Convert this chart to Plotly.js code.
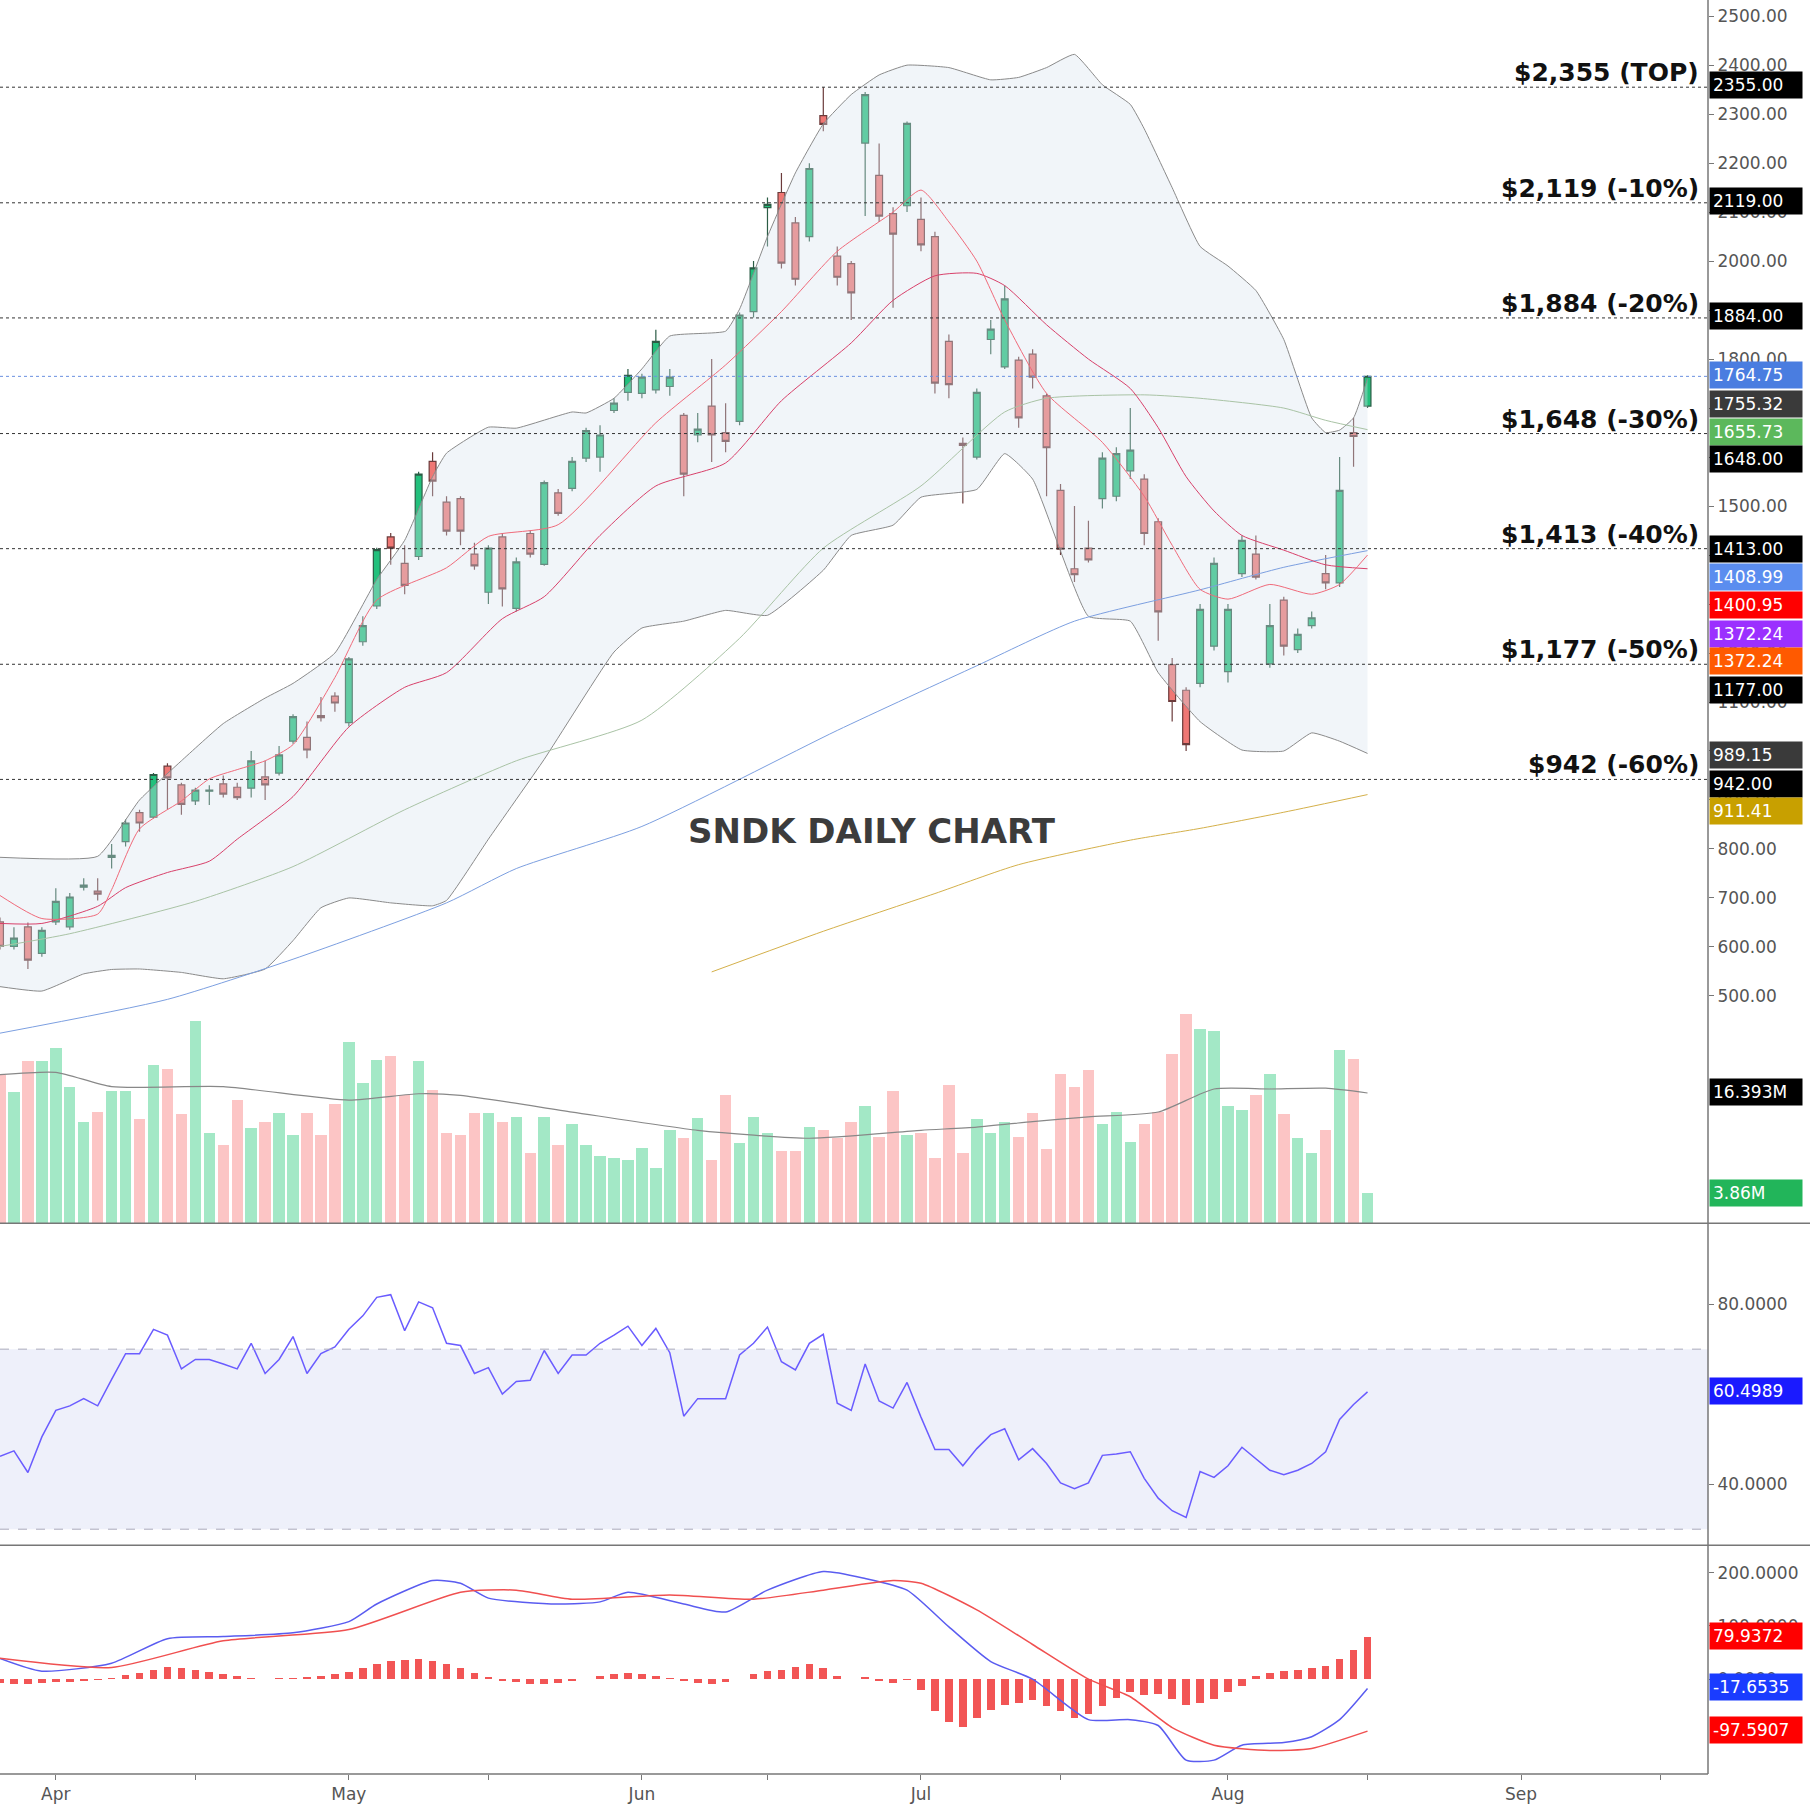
<!DOCTYPE html>
<html>
<head>
<meta charset="utf-8">
<script src="https://cdn.plot.ly/plotly-3.0.1.min.js"></script>
<style>html,body{margin:0;padding:0;background:#fff}#chart{width:1810px;height:1807px}</style>
</head>
<body>
<div id="chart"></div>
<script>
// trading days Mar 26 .. Aug 15
let dates = ["03-26","03-27","03-28","03-31",
  "04-01","04-02","04-03","04-04","04-07","04-08","04-09","04-10","04-11","04-14","04-15","04-16","04-17","04-21","04-22","04-23","04-24","04-25","04-28","04-29","04-30",
  "05-01","05-02","05-05","05-06","05-07","05-08","05-09","05-12","05-13","05-14","05-15","05-16","05-19","05-20","05-21","05-22","05-23","05-27","05-28","05-29","05-30",
  "06-02","06-03","06-04","06-05","06-06","06-09","06-10","06-11","06-12","06-13","06-16","06-17","06-18","06-20","06-23","06-24","06-25","06-26","06-27","06-30",
  "07-01","07-02","07-03","07-07","07-08","07-09","07-10","07-11","07-14","07-15","07-16","07-17","07-18","07-21","07-22","07-23","07-24","07-25","07-28","07-29","07-30","07-31",
  "08-01","08-04","08-05","08-06","08-07","08-08","08-11","08-12","08-13","08-14","08-15"];
let idx = dates.map((d, i) => i);

let open  = [651,601,641,587,651,641,722,714,783,815,874,865,969,931,898,918,933,926,924,947,955,1020,1028,1072,1112,
  1058,1223,1296,1437,1383,1397,1591,1508,1515,1402,1324,1437,1291,1444,1381,1527,1536,1598,1600,1695,1732,
  1730,1737,1744,1685,1645,1704,1650,1673,1897,2109,2140,2078,2050,2297,2010,1995,2241,2175,2097,2113,
  2085,2050,1836,1628,1600,1840,1784,1798,1810,1725,1532,1372,1414,1515,1520,1572,1555,1468,1176,1124,1138,1214,
  1162,1362,1402,1178,1308,1207,1256,1362,1343,1650,1704];
let close = [601,618,573,634,693,702,726,708,787,853,853,952,945,891,920,920,912,905,980,931,992,1070,1002,1068,1098,
  1188,1256,1411,1414,1338,1565,1551,1449,1449,1378,1414,1331,1386,1402,1548,1485,1591,1654,1645,1710,1767,
  1763,1836,1763,1565,1657,1645,1632,1890,1986,2116,1996,1963,2189,2279,1967,1935,2340,2092,2055,2281,
  2033,1751,1748,1624,1732,1861,1923,1680,1763,1619,1412,1360,1390,1598,1607,1614,1444,1284,1101,1013,1289,1383,
  1289,1430,1355,1256,1214,1238,1272,1343,1532,1642,1765];
let high  = [660,640,650,640,720,710,740,740,810,860,880,955,975,935,925,930,950,935,1000,980,1010,1075,1060,1110,1120,
  1192,1275,1415,1445,1420,1570,1610,1520,1520,1425,1420,1445,1395,1450,1552,1535,1600,1660,1665,1720,1780,
  1770,1860,1780,1690,1690,1800,1710,1895,2000,2130,2180,2090,2200,2355,2030,2000,2345,2240,2110,2285,
  2130,2060,1850,1640,1740,1880,1950,1805,1820,1730,1545,1500,1470,1610,1620,1700,1565,1475,1190,1130,1300,1395,
  1300,1440,1440,1300,1315,1250,1285,1400,1600,1680,1767];
let low   = [595,595,555,580,645,635,715,695,760,805,835,862,880,870,890,890,905,900,905,900,950,1015,985,1060,1080,
  1050,1215,1290,1380,1320,1390,1520,1440,1420,1370,1300,1295,1285,1395,1378,1480,1530,1590,1570,1690,1715,
  1720,1730,1725,1520,1630,1590,1610,1665,1885,2030,1985,1950,2040,2265,1950,1880,2092,2080,1905,2100,
  2020,1730,1720,1505,1595,1810,1780,1660,1740,1520,1400,1345,1385,1495,1510,1555,1420,1225,1060,1000,1130,1205,
  1140,1355,1350,1170,1195,1200,1250,1330,1335,1580,1700];
let volume = [18.7,16.5,20.4,20.4,22.0,17.2,12.8,14.0,16.6,16.6,13.1,19.9,19.4,13.7,25.4,11.4,9.9,15.5,12.0,12.8,
  13.9,11.1,13.9,11.1,15.0,22.8,17.7,20.6,21.0,16.1,20.4,16.8,11.4,11.1,13.9,13.9,12.8,13.4,8.8,13.4,
  9.9,12.5,9.9,8.5,8.2,7.9,9.5,7.0,11.8,10.7,13.2,8.0,16.1,10.1,13.4,11.4,9.1,9.1,12.1,11.8,
  10.7,12.8,14.7,10.9,16.6,11.1,11.4,8.2,17.4,8.8,13.1,11.4,12.8,10.8,13.9,9.3,18.8,17.2,19.3,12.5,
  14.0,10.2,12.5,14.0,21.3,26.4,24.5,24.2,14.7,14.2,16.1,18.8,13.7,10.7,8.8,11.7,21.8,20.7,3.86];
let rsi = [46.2,47.4,42.6,50.5,56.4,57.4,59.0,57.4,63.3,69.0,69.0,74.4,73.1,65.6,67.7,67.7,66.7,65.6,71.3,64.6,
  67.7,72.8,64.6,69.0,70.5,74.4,77.4,81.5,82.1,74.1,80.5,79.2,71.3,70.8,64.6,65.9,60.0,62.8,63.1,69.7,
  64.6,68.7,68.7,71.3,73.1,75.1,70.8,74.6,69.2,55.1,59.0,59.0,59.0,68.7,71.3,74.9,67.2,65.4,71.3,73.3,
  58.0,56.4,66.7,58.5,56.9,62.6,54.9,47.7,47.7,44.1,47.9,51.0,52.3,45.4,47.9,44.6,40.3,39.0,40.3,46.4,
  46.7,47.2,41.3,36.9,34.1,32.6,42.8,41.5,44.1,48.2,45.6,43.1,42.1,43.1,44.6,47.2,54.4,57.7,60.5];
let macdHist = [-8,-10,-10,-8,-6,-5,-3,-2,2,8,12,18,22,20,18,14,10,6,2,0,2,2,4,6,10,14,20,28,34,36,
  38,34,28,20,12,4,-4,-6,-10,-10,-8,-4,0,6,10,12,10,6,2,-4,-8,-10,-6,0,10,16,18,22,28,20,
  6,0,4,-4,-8,-2,-20,-60,-80,-90,-72,-58,-48,-45,-40,-50,-60,-72,-65,-50,-35,-25,-30,-28,-38,-48,-45,-38,-25,-12,
  5,12,15,18,20,25,38,55,80];

let bbUpper = [[0,783],[7,785],[10,900],[13,980],[16,1056],[19,1108],[21,1138],[24,1200],[27,1350],[29,1430],[31,1560],[32,1608],
  [35,1661],[37,1659],[41,1692],[42,1690],[44,1720],[46,1780],[48,1847],[52,1857],[53,1902],[55,2050],[57,2180],[59,2280],[61,2340],
  [63,2380],[65,2400],[68,2395],[71,2370],[73,2375],[75,2395],[77,2422],[79,2360],[81,2320],[82,2270],[84,2150],[86,2030],[88,1990],
  [90,1940],[92,1840],[94,1680],[95,1650],[96,1655],[97,1680],[98,1760]];
let bbLower = [[0,519],[3,510],[6,545],[8,554],[10,555],[13,548],[16,535],[19,555],[21,613],[23,680],[25,700],[28,690],[31,684],
  [32,695],[35,820],[39,983],[44,1202],[46,1251],[49,1265],[52,1287],[55,1277],[59,1369],[61,1440],[64,1461],[66,1518],[70,1534],
  [72,1607],[74,1555],[78,1275],[81,1265],[83,1160],[86,1060],[89,1002],[92,1000],[94,1037],[96,1020],[98,995]];
let emaFast = [[0,705],[3,658],[7,667],[8,717],[10,841],[13,898],[15,943],[17,962],[19,980],[21,1013],[24,1150],[27,1308],[32,1374],
  [35,1438],[40,1462],[47,1670],[52,1788],[56,1897],[60,2020],[64,2100],[66,2145],[68,2080],[70,2000],[72,1880],[75,1730],[79,1630],
  [82,1520],[84,1420],[86,1330],[88,1310],[91,1340],[94,1320],[96,1340],[98,1400]];
let sma20 = [[0,648],[3,648],[7,683],[9,721],[12,752],[15,775],[17,820],[21,907],[25,1049],[29,1130],[32,1160],[36,1270],[39,1315],
  [43,1440],[47,1541],[52,1588],[56,1715],[61,1833],[64,1920],[67,1970],[70,1975],[72,1950],[75,1870],[78,1800],[81,1740],[83,1660],
  [85,1560],[87,1490],[89,1440],[92,1410],[95,1380],[98,1372]];
let sma50 = [[0,601],[5,627],[14,693],[21,764],[29,880],[37,980],[46,1063],[53,1230],[59,1414],[66,1541],[72,1692],[75,1720],
  [82,1727],[86,1720],[92,1700],[95,1675],[98,1656]];
let sma100 = [[0,424],[12,493],[21,575],[32,690],[37,760],[46,846],[60,1042],[70,1174],[77,1265],[86,1329],[92,1375],[98,1409]];
let sma200 = [[51,549],[59,632],[67,709],[73,768],[81,818],[86,842],[92,875],[98,911]];
let volMA = [[0,18.7],[4,19.0],[8,17.2],[16,17.2],[25,15.5],[30,16.3],[33,16.1],[41,14.0],[50,11.7],[58,10.7],[66,11.7],[70,12.1],
  [74,12.8],[78,13.4],[83,14.0],[87,16.9],[91,16.9],[95,17.0],[98,16.4]];
let macdLine = [[0,39],[3,15],[8,30],[12,76],[16,80],[21,87],[25,108],[27,141],[31,185],[33,180],[35,152],[40,141],[43,145],[45,163],
  [49,141],[52,126],[55,167],[59,202],[62,189],[65,167],[68,98],[71,33],[74,0],[78,-76],[81,-76],[83,-87],[85,-152],[87,-152],
  [89,-124],[92,-119],[94,-108],[96,-76],[98,-17.65]];
let macdSignal = [[0,39],[8,22],[16,72],[25,93],[33,163],[37,167],[41,150],[48,158],[54,150],[59,167],[64,185],[66,180],[70,130],
  [74,65],[78,0],[81,-33],[84,-91],[87,-124],[91,-134],[94,-130],[98,-97.59]];

let levels = [2355, 2119, 1884, 1648, 1413, 1177, 942];
let levelText = ["$2,355 (TOP)", "$2,119 (-10%)", "$1,884 (-20%)", "$1,648 (-30%)", "$1,413 (-40%)", "$1,177 (-50%)", "$942 (-60%)"];
let lastPrice = 1764.75;

let monthTicks = [4, 25, 46, 66, 88, 109];
let monthNames = ["Apr", "May", "Jun", "Jul", "Aug", "Sep"];
let midTicks = [14, 35, 55, 76, 98, 119];

// right edge value boxes: [label, screen y (px in 1568 view), background]
let priceBoxes = [
  ["2355.00", 74, "#000"], ["2119.00", 174, "#000"], ["1884.00", 274, "#000"], ["1764.75", 325, "#4a7de0"],
  ["1755.32", 350, "#3a3a3a"], ["1655.73", 374, "#5cb85c"], ["1648.00", 398, "#000"], ["1413.00", 476, "#000"],
  ["1408.99", 500, "#5b8def"], ["1400.95", 524, "#ff0000"], ["1372.24", 549, "#9b30ff"], ["1372.24", 573, "#ff5a00"],
  ["1177.00", 598, "#000"], ["989.15", 654, "#3a3a3a"], ["942.00", 679, "#000"], ["911.41", 703, "#c8a000"],
  ["16.393M", 946, "#000"], ["3.86M", 1034, "#22b55a"], ["60.4989", 1205, "#1a1aff"],
  ["79.9372", 1418, "#f00"], ["-17.6535", 1462, "#1a3cff"], ["-97.5907", 1499, "#f00"]];

const F = "DejaVu Sans, Verdana, sans-serif";
const H = 1774;
function py(sy) { return 1 - sy * 1.154 / H; }
function xs(a) { return a.map(p => p[0]); }
function ys(a) { return a.map(p => p[1]); }
function line(a, color, yaxis, w) {
  return { x: xs(a), y: ys(a), yaxis: yaxis, mode: "lines", line: { color: color, width: w || 1, shape: "spline", smoothing: 0.6 }, hoverinfo: "skip", showlegend: false };
}

let traces = [];
traces.push({ x: xs(bbUpper), y: ys(bbUpper), mode: "lines", line: { color: "#8a8a8a", width: 1, shape: "spline", smoothing: 0.4 }, showlegend: false, hoverinfo: "skip" });
traces.push({ x: xs(bbLower), y: ys(bbLower), mode: "lines", fill: "tonexty", fillcolor: "rgba(214,226,238,0.35)", line: { color: "#8a8a8a", width: 1, shape: "spline", smoothing: 0.4 }, showlegend: false, hoverinfo: "skip" });
traces.push({
  x: idx, y: volume, type: "bar", yaxis: "y4", width: 0.82,
  marker: { color: idx.map(i => close[i] >= open[i] ? "rgba(88,214,151,0.55)" : "rgba(250,150,150,0.55)") },
  showlegend: false, hoverinfo: "skip"
});
traces.push(line(volMA, "#888", "y4", 1.2));
traces.push(line(sma200, "#d4b04a", "y"));
traces.push(line(sma100, "#7c9fe0", "y"));
traces.push(line(sma50, "#a9c3a5", "y"));
traces.push(line(sma20, "#d8406a", "y"));
traces.push(line(emaFast, "#f06a7a", "y"));
traces.push({
  x: idx, open: open, high: high, low: low, close: close, type: "candlestick", whiskerwidth: 0,
  increasing: { line: { color: "#2b5c45", width: 1.2 }, fillcolor: "#22c07c" },
  decreasing: { line: { color: "#6b3b3b", width: 1.2 }, fillcolor: "#ef7774" },
  showlegend: false, hoverinfo: "skip"
});
traces.push({ x: idx, y: rsi, yaxis: "y2", mode: "lines", line: { color: "#6a5cff", width: 1.5 }, showlegend: false, hoverinfo: "skip" });
traces.push({ x: idx, y: macdHist, yaxis: "y3", type: "bar", width: 0.55, marker: { color: "#f25555" }, showlegend: false, hoverinfo: "skip" });
traces.push(line(macdLine, "#5a5cf0", "y3", 1.5));
traces.push(line(macdSignal, "#f05050", "y3", 1.5));

let shapes = [];
levels.forEach(v => shapes.push({ type: "line", xref: "paper", x0: 0, x1: 1, yref: "y", y0: v, y1: v, line: { color: "#333", width: 1, dash: "dot" } }));
shapes.push({ type: "line", xref: "paper", x0: 0, x1: 1, yref: "y", y0: lastPrice, y1: lastPrice, line: { color: "#6a8fe0", width: 1, dash: "dot" } });
shapes.push({ type: "rect", xref: "paper", x0: 0, x1: 1, yref: "y2", y0: 30, y1: 70, fillcolor: "#eef0fa", line: { width: 0 }, layer: "below" });
[30, 70].forEach(v => shapes.push({ type: "line", xref: "paper", x0: 0, x1: 1, yref: "y2", y0: v, y1: v, line: { color: "#aab", width: 1, dash: "dash" } }));
[1060, 1339].forEach(s => shapes.push({ type: "line", xref: "paper", x0: 0, x1: 1.06, yref: "paper", y0: py(s), y1: py(s), line: { color: "#777", width: 1.5 } }));
shapes.push({ type: "line", xref: "paper", x0: 1, x1: 1, yref: "paper", y0: 0, y1: 1, line: { color: "#777", width: 1.5 } });
shapes.push({ type: "line", xref: "paper", x0: 0, x1: 1, yref: "paper", y0: 0, y1: 0, line: { color: "#777", width: 1.5 } });

let annotations = [];
levels.forEach((v, i) => annotations.push({
  xref: "paper", x: 0.996, xanchor: "right", yref: "y", y: v, yanchor: "bottom", yshift: -2,
  text: "<b>" + levelText[i] + "</b>", showarrow: false, font: { family: F, size: 25, color: "#111" }
}));
priceBoxes.forEach(b => annotations.push({
  xref: "paper", x: 1, xanchor: "left", xshift: 1, yref: "paper", y: py(b[1]), yanchor: "middle",
  text: b[0], showarrow: false, bgcolor: b[2], borderpad: 3, font: { family: F, size: 17, color: "#fff" }, width: 86, align: "left"
}));
annotations.push({ x: 62.5, y: 837, xref: "x", yref: "y", text: "<b>SNDK DAILY CHART</b>", showarrow: false, font: { family: F, size: 34, color: "#3c3c3c" } });

let tickFont = { family: F, size: 17, color: "#555" };
let layout = {
  width: 1810, height: 1807, paper_bgcolor: "#fff", plot_bgcolor: "#fff",
  margin: { l: 0, r: 102, t: 0, b: 33 },
  showlegend: false, bargap: 0, barmode: "overlay",
  xaxis: {
    anchor: "y3", range: [0, 122.4], showgrid: false, zeroline: false,
    tickvals: monthTicks.concat(midTicks), ticktext: monthNames.concat(midTicks.map(() => "")),
    ticks: "outside", ticklen: 5, tickcolor: "#777", tickfont: tickFont, rangeslider: { visible: false }
  },
  yaxis: {
    domain: [py(1060), 1], range: [36, 2533], side: "right", showgrid: false, zeroline: false,
    tickvals: [500,600,700,800,900,1000,1100,1200,1300,1400,1500,1600,1700,1800,1900,2000,2100,2200,2300,2400,2500],
    tickformat: ".2f", ticks: "outside", ticklen: 5, tickcolor: "#777", tickfont: tickFont
  },
  yaxis4: { domain: [py(1060), 1], overlaying: "y", range: [0, 154], visible: false },
  yaxis2: {
    domain: [py(1338), py(1063)], range: [26.7, 97.2], side: "right", showgrid: false, zeroline: false,
    tickvals: [40, 80], tickformat: ".4f", ticks: "outside", ticklen: 5, tickcolor: "#777", tickfont: tickFont
  },
  yaxis3: {
    domain: [0, py(1341)], range: [-178, 247], side: "right", showgrid: false, zeroline: false,
    tickvals: [0, 100, 200], tickformat: ".4f", ticks: "outside", ticklen: 5, tickcolor: "#777", tickfont: tickFont
  },
  shapes: shapes, annotations: annotations
};

Plotly.newPlot("chart", traces, layout, { displayModeBar: false, staticPlot: true });
</script>
</body>
</html>
